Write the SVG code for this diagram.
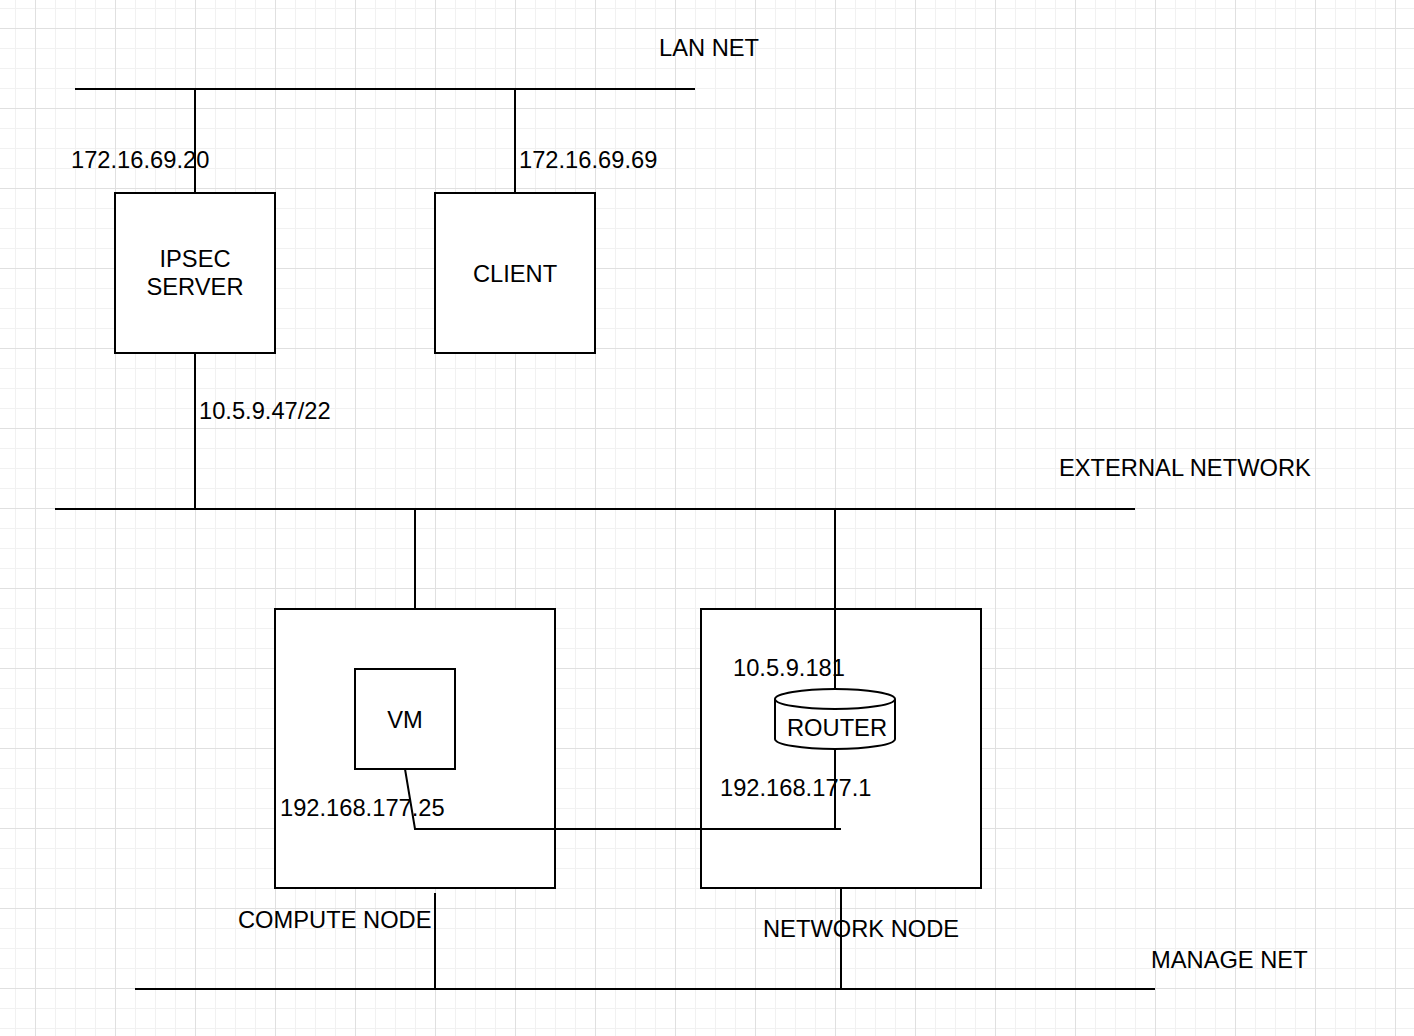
<svg xmlns="http://www.w3.org/2000/svg" width="1414" height="1036" viewBox="0 0 1414 1036">
  <defs>
    <pattern id="grid" patternUnits="userSpaceOnUse" x="35" y="28" width="80" height="80">
      <rect x="0" y="0" width="80" height="80" fill="#ffffff"/>
      <g fill="#f1f1f1">
        <rect x="20" y="0" width="1" height="80"/>
        <rect x="40" y="0" width="1" height="80"/>
        <rect x="60" y="0" width="1" height="80"/>
        <rect x="0" y="20" width="80" height="1"/>
        <rect x="0" y="40" width="80" height="1"/>
        <rect x="0" y="60" width="80" height="1"/>
      </g>
      <g fill="#e0e0e0">
        <rect x="0" y="0" width="1" height="80"/>
        <rect x="0" y="0" width="80" height="1"/>
      </g>
    </pattern>
    <style>
      .box { fill: #ffffff; stroke: #000000; stroke-width: 2; }
      .ln { fill: none; stroke: #000000; stroke-width: 2; }
      .t { font-family: "Liberation Sans", Arial, Helvetica, sans-serif; font-size: 23.7px; fill: #000000; }
      .c { text-anchor: middle; }
    </style>
  </defs>

  <rect x="0" y="0" width="1414" height="1036" fill="url(#grid)"/>

  <g id="nodes">
    <g id="ipsec-server">
      <rect class="box" x="115" y="193" width="160" height="160"/>
      <text class="t c" x="195" y="267">IPSEC</text>
      <text class="t c" x="195" y="295">SERVER</text>
    </g>
    <g id="client">
      <rect class="box" x="435" y="193" width="160" height="160"/>
      <text class="t c" x="515" y="282">CLIENT</text>
    </g>
    <g id="compute-node">
      <rect class="box" x="275" y="609" width="280" height="279"/>
      <text class="t" x="238" y="928">COMPUTE NODE</text>
    </g>
    <g id="vm">
      <rect class="box" x="355" y="669" width="100" height="100"/>
      <text class="t c" x="405" y="728">VM</text>
    </g>
    <g id="network-node">
      <rect class="box" x="701" y="609" width="280" height="279"/>
      <text class="t" x="763" y="937">NETWORK NODE</text>
    </g>
  </g>

  <g id="connectors">
    <line class="ln" x1="75" y1="89" x2="695" y2="89"/>
    <line class="ln" x1="195" y1="89" x2="195" y2="193"/>
    <line class="ln" x1="515" y1="89" x2="515" y2="193"/>
    <line class="ln" x1="195" y1="353" x2="195" y2="509"/>
    <line class="ln" x1="55" y1="509" x2="1135" y2="509"/>
    <line class="ln" x1="415" y1="509" x2="415" y2="609"/>
    <line class="ln" x1="835" y1="509" x2="835" y2="689"/>
    <line class="ln" x1="835" y1="749" x2="835" y2="829"/>
    <polyline class="ln" points="405,769 415,829 841,829"/>
    <line class="ln" x1="435" y1="893" x2="435" y2="989"/>
    <line class="ln" x1="841" y1="888" x2="841" y2="989"/>
    <line class="ln" x1="135" y1="989" x2="1155" y2="989"/>
  </g>

  <g id="router">
    <path class="box" d="M775,699 A60,10 0 0 1 895,699 L895,739 A60,10 0 0 1 775,739 Z"/>
    <path class="ln" d="M775,699 A60,10 0 0 0 895,699"/>
    <text class="t" x="787" y="736">ROUTER</text>
  </g>

  <g id="labels">
    <text class="t" x="659" y="56">LAN NET</text>
    <text class="t" x="71" y="168">172.16.69.20</text>
    <text class="t" x="519" y="168">172.16.69.69</text>
    <text class="t" x="199" y="419">10.5.9.47/22</text>
    <text class="t" x="1059" y="476">EXTERNAL NETWORK</text>
    <text class="t" x="733" y="676">10.5.9.181</text>
    <text class="t" x="720" y="796">192.168.177.1</text>
    <text class="t" x="280" y="816">192.168.177.25</text>
    <text class="t" x="1151" y="968">MANAGE NET</text>
  </g>
</svg>
